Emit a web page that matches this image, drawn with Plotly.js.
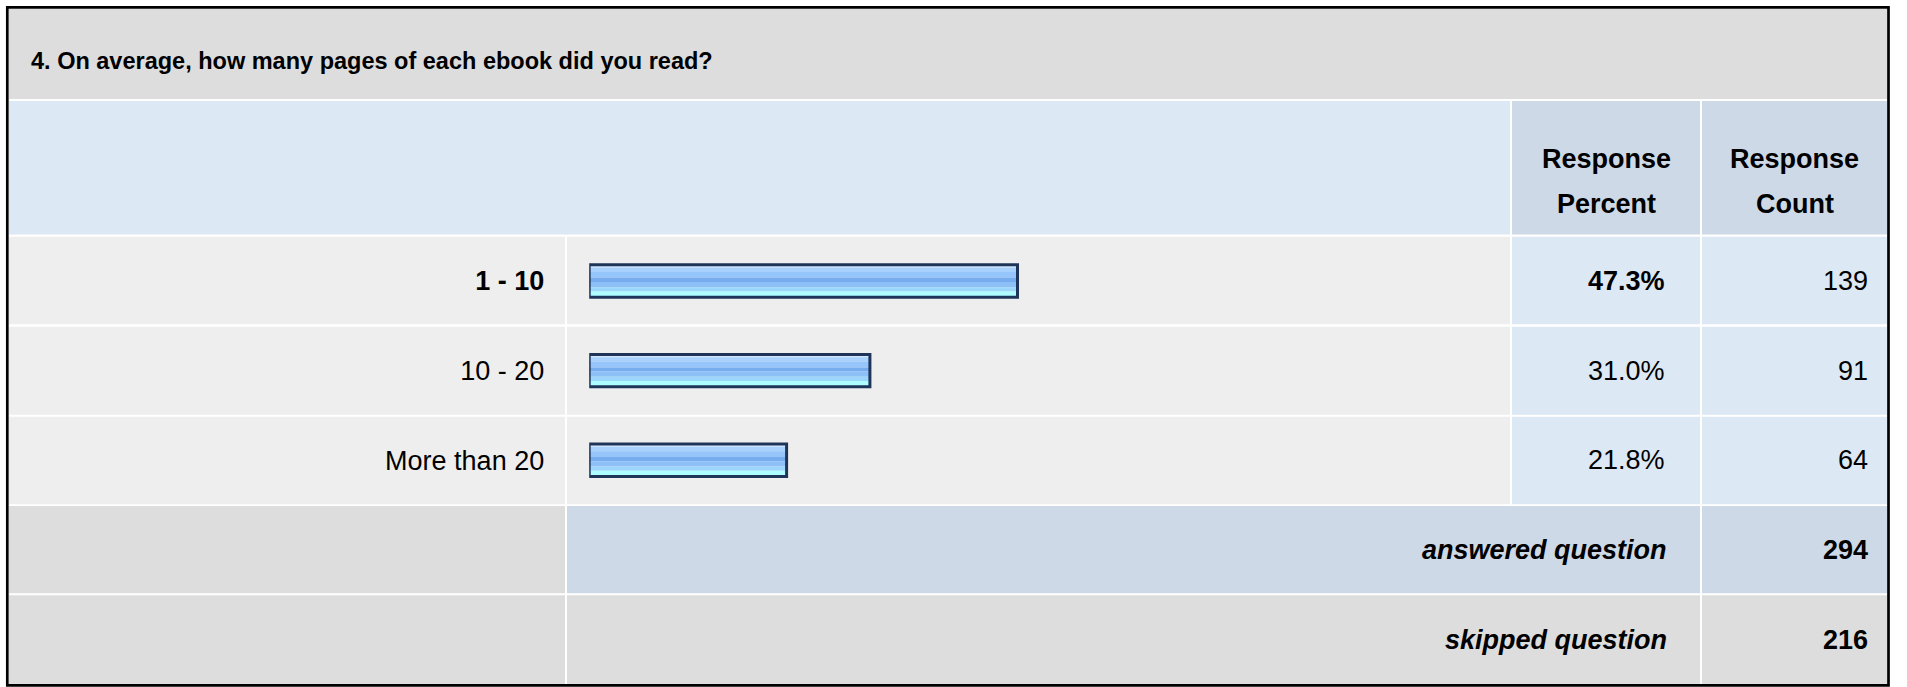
<!DOCTYPE html>
<html><head><meta charset="utf-8">
<script src="https://cdn.plot.ly/plotly-3.0.1.min.js"></script>
<style>html,body{margin:0;padding:0;background:#fff;} #chart{width:1907px;height:687px;}</style>
</head><body><div id="chart"></div>
<script>
// ---- data ----
const questionTitle = "4. On average, how many pages of each ebook did you read?";
const categories = ["1 - 10", "10 - 20", "More than 20"];
const responsePercent = [47.3, 31.0, 21.8];
const responseCount = [139, 91, 64];
const boldRow = [true, false, false];
const headerPercent = ["Response", "Percent"];
const headerCount = ["Response", "Count"];
const summaryLabels = ["answered question", "skipped question"];
const summaryCounts = [294, 216];

// ---- layout helpers (pixel -> paper) ----
const W = 1907, H = 687;
const FONT = "Liberation Sans, Arial, Helvetica, sans-serif";
const FS = 27, FS_TITLE = 23.5;
const px = x => x / W;
const py = y => 1 - y / H;
function rect(x0, y0, x1, y1, color) {
  return {type: 'rect', xref: 'paper', yref: 'paper', x0: px(x0), x1: px(x1), y0: py(y1), y1: py(y0),
          fillcolor: color, line: {width: 0}, layer: 'below'};
}
const C_TITLE = '#dddddd', C_HEAD = '#dde8f5', C_HEAD2 = '#cdd9e6', C_ROW = '#eeeeee', C_CELL = '#dde8f5', C_SUM = '#dddddd';
const colL = [9, 565], colB = [567, 1510], colP = [1512, 1700], colC = [1702, 1887];
const rowsY = [[236.7, 324.3], [326.7, 414.7], [416.7, 504.3]];
const ansY = [506, 593.3], skpY = [595.3, 684];

const shapes = [];
shapes.push(rect(9, 9, colC[1], 99, C_TITLE));
shapes.push(rect(9, 101, colB[1], 234.5, C_HEAD));
shapes.push(rect(colP[0], 101, colP[1], 234.5, C_HEAD2));
shapes.push(rect(colC[0], 101, colC[1], 234.5, C_HEAD2));
rowsY.forEach(r => {
  shapes.push(rect(colL[0], r[0], colL[1], r[1], C_ROW));
  shapes.push(rect(colB[0], r[0], colB[1], r[1], C_ROW));
  shapes.push(rect(colP[0], r[0], colP[1], r[1], C_CELL));
  shapes.push(rect(colC[0], r[0], colC[1], r[1], C_CELL));
});
shapes.push(rect(colL[0], ansY[0], colL[1], ansY[1], C_SUM));
shapes.push(rect(colB[0], ansY[0], colP[1], ansY[1], C_HEAD2));
shapes.push(rect(colC[0], ansY[0], colC[1], ansY[1], C_HEAD2));
shapes.push(rect(colL[0], skpY[0], colL[1], skpY[1], C_SUM));
shapes.push(rect(colB[0], skpY[0], colP[1], skpY[1], C_SUM));
shapes.push(rect(colC[0], skpY[0], colC[1], skpY[1], C_SUM));
// outer frame
shapes.push({type: 'rect', xref: 'paper', yref: 'paper', x0: px(7.3), x1: px(1888.5), y0: py(685.3), y1: py(7.3),
             line: {color: '#000000', width: 2.7}, fillcolor: 'rgba(0,0,0,0)', layer: 'above'});

// ---- bars (striped to imitate the gradient) ----
const idx = categories.map((c, i) => i);
const barH = 0.3614;
const stripeStops = [0, 0.085, 0.22, 0.40, 0.53, 0.69, 0.82, 1.0];
const stripeColors = ['#cfe6ff', '#a9d1fd', '#95c5fa', '#77acef', '#8dc0f7', '#9cd6fb', '#adfcff'];
const traces = stripeColors.map((col, k) => ({
  type: 'bar', orientation: 'h', x: responsePercent, y: idx,
  offset: -barH / 2 + stripeStops[k] * barH, width: (stripeStops[k + 1] - stripeStops[k]) * barH,
  marker: {color: col, line: {width: 0}}, hoverinfo: 'skip', showlegend: false
}));
traces.push({
  type: 'bar', orientation: 'h', x: responsePercent, y: idx,
  offset: -barH / 2, width: barH,
  marker: {color: 'rgba(0,0,0,0)', line: {color: '#1e3559', width: 3}}, hoverinfo: 'skip', showlegend: false
});

// ---- text ----
function ann(x, y, text, opt) {
  opt = opt || {};
  return Object.assign({xref: 'paper', yref: 'paper', x: px(x), y: py(y), text: text, showarrow: false,
    xanchor: 'left', yanchor: 'middle', font: {family: FONT, size: opt.size || FS, color: '#000'}}, opt.extra || {});
}
const X_PCT = 1667, X_CNT = 1870;
const annotations = [];
annotations.push(ann(29, 61, '<b>' + questionTitle + '</b>', {size: FS_TITLE}));
annotations.push(ann(1606, 159, '<b>' + headerPercent[0] + '</b>', {extra: {xanchor: 'center'}}));
annotations.push(ann(1606, 204, '<b>' + headerPercent[1] + '</b>', {extra: {xanchor: 'center'}}));
annotations.push(ann(1794.5, 159, '<b>' + headerCount[0] + '</b>', {extra: {xanchor: 'center'}}));
annotations.push(ann(1794.5, 204, '<b>' + headerCount[1] + '</b>', {extra: {xanchor: 'center'}}));
idx.forEach(i => {
  const b = boldRow[i];
  const pct = responsePercent[i].toFixed(1) + '%';
  annotations.push({xref: 'paper', yref: 'y', x: px(X_PCT), y: i, text: b ? '<b>' + pct + '</b>' : pct,
    showarrow: false, xanchor: 'right', yanchor: 'middle', font: {family: FONT, size: FS, color: '#000'}});
  annotations.push({xref: 'paper', yref: 'y', x: px(X_CNT), y: i, text: String(responseCount[i]),
    showarrow: false, xanchor: 'right', yanchor: 'middle', font: {family: FONT, size: FS, color: '#000'}});
});
const sumRowsY = [ansY, skpY];
summaryLabels.forEach((lab, j) => {
  const yc = (sumRowsY[j][0] + sumRowsY[j][1]) / 2;
  annotations.push(ann(X_PCT + 2, yc, '<b><i>' + lab + '</i></b>', {extra: {xanchor: 'right'}}));
  annotations.push(ann(X_CNT, yc, '<b>' + summaryCounts[j] + '</b>', {extra: {xanchor: 'right'}}));
});

const layout = {
  width: W, height: H, margin: {l: 0, r: 0, t: 0, b: 0, pad: 0},
  paper_bgcolor: '#ffffff', plot_bgcolor: 'rgba(0,0,0,0)',
  barmode: 'overlay', showlegend: false,
  xaxis: {domain: [589.2 / W, 1494.7 / W], range: [0, 100], visible: false, fixedrange: true},
  yaxis: {domain: [1 - 505.1 / H, 1 - 236.2 / H], range: [2.5, -0.5], tickmode: 'array',
          tickvals: idx, ticktext: categories.map((c, i) => boldRow[i] ? '<b>' + c + '</b>' : c),
          ticks: '', showgrid: false, zeroline: false, showline: false, ticklabelstandoff: 44,
          tickfont: {family: FONT, size: FS, color: '#000'}, fixedrange: true},
  shapes: shapes, annotations: annotations
};
Plotly.newPlot('chart', traces, layout, {staticPlot: true, displayModeBar: false});
</script></body></html>
